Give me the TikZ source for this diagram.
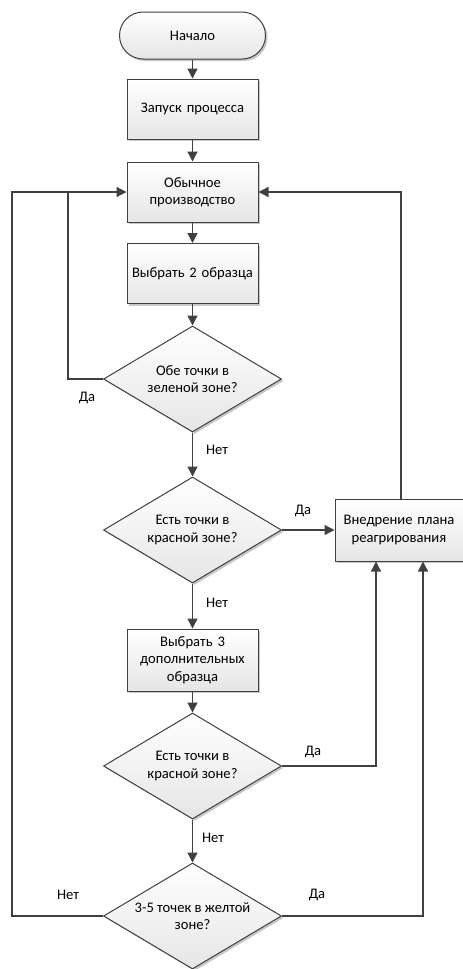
\documentclass[tikz,border=0pt]{standalone}
\usepackage{fontspec}
\setmainfont{Carlito}
\usetikzlibrary{arrows.meta,shapes.geometric,shapes.misc,shadows,calc}

\definecolor{linegray}{HTML}{404040}

\tikzset{
  base/.style={draw=linegray, line width=1pt, top color=white, bottom color=black!10,
    drop shadow={shadow xshift=2pt, shadow yshift=-2pt, fill=black, opacity=0.22},
    font=\fontsize{14.6}{17.5}\selectfont, align=center, inner sep=2pt},
  terminal/.style={base, rounded rectangle, minimum width=150pt, minimum height=47pt},
  process/.style={base, rectangle, minimum width=131pt, minimum height=60pt, text width=125pt},
  decision/.style={base, diamond, minimum width=178pt, minimum height=106pt, inner sep=0pt, aspect=1.68},
  flow/.style={draw=linegray, line width=1.3pt, -{Triangle[length=10pt,width=10pt]}},
  plain/.style={draw=linegray, line width=1.3pt},
  lbl/.style={font=\fontsize{14.6}{17.5}\selectfont, inner sep=0pt}
}

\begin{document}
\begin{tikzpicture}[x=1pt, y=-1pt]
  \useasboundingbox (0,0) rectangle (463,969);

  % main column
  \node[terminal] (start) at (192.5,35.5) {Начало};
  \node[process]  (launch) at (192.5,109) {Запуск процесса};
  \node[process]  (normal) at (192.5,192) {Обычное\\производство};
  \node[process]  (pick2)  at (192.5,273.5) {Выбрать 2 образца};
  \node[decision] (green)  at (192.5,379) {Обе точки в\\зеленой зоне?};
  \node[decision] (red1)   at (192.5,530) {Есть точки в\\красной зоне?};
  \node[process, minimum height=62pt] (pick3) at (192.5,660) {Выбрать 3\\дополнительных\\образца};
  \node[decision] (red2)   at (192.5,766) {Есть точки в\\красной зоне?};
  \node[decision] (yellow) at (192.5,916) {3-5 точек в желтой\\зоне?};

  % response plan box on the right
  \node[process, minimum width=128pt, minimum height=62pt, text width=122pt] (plan) at (399,530) {Внедрение плана\\реагрирования};

  % return line coordinates
  \coordinate (innerx) at (68,192);
  \coordinate (outerx) at (12,192);

  % straight flow
  \draw[flow] (start) -- (launch);
  \draw[flow] (launch) -- (normal);
  \draw[flow] (normal) -- (pick2);
  \draw[flow] (pick2) -- (green);
  \draw[flow] (green) -- (red1);
  \draw[flow] (red1) -- (pick3);
  \draw[flow] (pick3) -- (red2);
  \draw[flow] (red2) -- (yellow);
  \draw[flow] (red1) -- (plan);

  % loops back to normal production
  \draw[plain] (green.west) -| (innerx);
  \draw[flow] (yellow.west) -| (outerx) -- (normal.west);
  \draw[flow] ([xshift=2pt]plan.north) |- (normal.east);

  % branches into the response plan
  \draw[flow] (red2.east) -| ([xshift=-23pt]plan.south);
  \draw[flow] (yellow.east) -| ([xshift=24pt]plan.south);

  % branch labels
  \node[lbl] (l1) at (87,398) {Да};
  \node[lbl] (l2) at (217,450) {Нет};
  \node[lbl] (l3) at (303,511) {Да};
  \node[lbl] (l4) at (217,603) {Нет};
  \node[lbl] (l5) at (313,752) {Да};
  \node[lbl] (l6) at (213,838) {Нет};
  \node[lbl] (l7) at (68,895) {Нет};
  \node[lbl] (l8) at (317,895) {Да};
\end{tikzpicture}
\end{document}
